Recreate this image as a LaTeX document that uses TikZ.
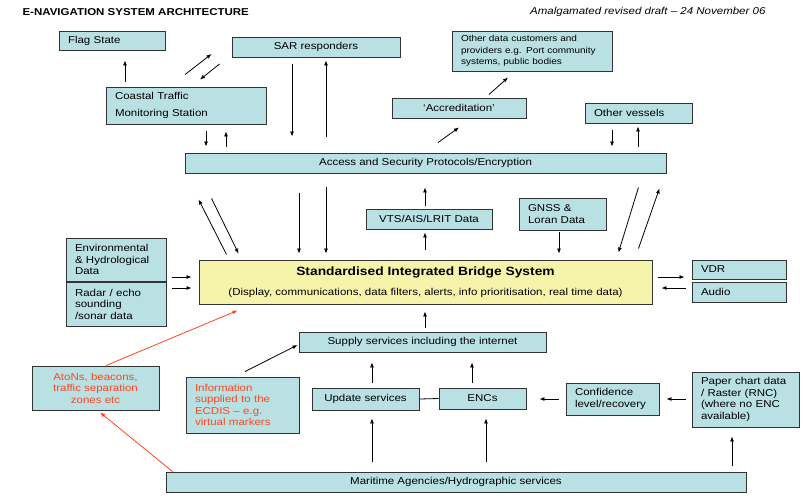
\documentclass[tikz,border=0pt]{standalone}
\usepackage{fontspec}
\setmainfont{Liberation Sans}[FakeStretch=1.15]
\usetikzlibrary{arrows.meta}
\definecolor{boxcyan}{RGB}{185,224,227}
\definecolor{sibsyellow}{RGB}{246,243,170}
\definecolor{redtxt}{RGB}{255,70,30}
\tikzset{
  infobox/.style={draw=black!80, line width=0.9pt, fill=boxcyan, inner sep=0pt, align=center, font=\fontsize{10}{11.5}\selectfont},
  leftbox/.style={infobox, align=left, inner xsep=9pt},
  arr/.style={-{Latex[length=5pt,width=4pt]}, line width=0.8pt},
  redarr/.style={arr, draw=redtxt},
}

\begin{document}
\begin{tikzpicture}[x=1pt,y=-1pt]
  \useasboundingbox (0,0) rectangle (805,496);
  % header
  \node[anchor=west, font=\fontsize{10}{12}\selectfont\bfseries] (title) at (19,12) {E-NAVIGATION SYSTEM ARCHITECTURE};
  \node[anchor=east, font=\fontsize{10}{12}\selectfont\itshape] (draft) at (769,12) {Amalgamated revised draft -- 24 November 06};
  % top row
  \node[leftbox, text width=88pt, minimum height=19pt] (flag) at (112,40.5) {Flag State};
  \node[infobox, minimum width=168pt, minimum height=20pt] (sar) at (316,47) {SAR responders};
  \node[leftbox, text width=142pt, minimum height=40pt, font=\fontsize{8.7}{11.5}\selectfont] (others) at (532,51) {Other data customers and\\providers e.g. Port community\\systems, public bodies};
  \node[leftbox, text width=142pt, minimum height=37pt] (coastal) at (186,105.5) {Coastal Traffic\\[6pt]Monitoring Station};
  \node[infobox, minimum width=134pt, minimum height=20pt] (accred) at (459,108) {`Accreditation'};
  \node[leftbox, text width=89pt, minimum height=20pt] (vessels) at (638.5,113) {Other vessels};
  \node[infobox, minimum width=481pt, minimum height=20pt] (access) at (425.5,163) {Access and Security Protocols/Encryption};
  % middle row
  \node[leftbox, text width=82pt, minimum height=43pt] (env) at (116,259.5) {Environmental\\\& Hydrological\\Data};
  \node[leftbox, text width=82pt, minimum height=44pt] (radar) at (116,304) {Radar / echo\\sounding\\/sonar data};
  \node[infobox, fill=sibsyellow, minimum width=453pt, minimum height=44pt] (sibs) at (425.5,282) {{\fontsize{12}{14}\selectfont\bfseries Standardised Integrated Bridge System}\\[8pt](Display, communications, data filters, alerts, info prioritisation, real time data)};
  \node[infobox, minimum width=126pt, minimum height=20pt] (vts) at (429,219) {VTS/AIS/LRIT Data};
  \node[leftbox, text width=69pt, minimum height=32pt] (gnss) at (562.5,214) {GNSS \&\\Loran Data};
  \node[leftbox, text width=76pt, minimum height=19pt] (vdr) at (739,269.5) {VDR};
  \node[leftbox, text width=76pt, minimum height=20pt] (audio) at (739,292) {Audio};
  % bottom rows
  \node[infobox, minimum width=247pt, minimum height=20pt] (supply) at (422.5,342) {Supply services including the internet};
  \node[infobox, text=redtxt, minimum width=127pt, minimum height=44pt] (atons) at (95.5,388) {AtoNs, beacons,\\traffic separation\\zones etc};
  \node[leftbox, text=redtxt, text width=95pt, minimum height=56pt] (ecdis) at (242.5,405) {Information\\supplied to the\\ECDIS -- e.g.\\virtual markers};
  \node[infobox, minimum width=107pt, minimum height=22pt] (update) at (365.5,399) {Update services};
  \node[infobox, minimum width=87pt, minimum height=21pt] (encs) at (482.5,398.5) {ENCs};
  \node[leftbox, text width=75pt, minimum height=32pt] (conf) at (612.5,399) {Confidence\\level/recovery};
  \node[leftbox, text width=89pt, minimum height=55pt] (paper) at (745.5,399.5) {Paper chart data\\/ Raster (RNC)\\(where no ENC\\available)};
  \node[infobox, minimum width=580pt, minimum height=20pt] (maritime) at (456,482) {Maritime Agencies/Hydrographic services};
  % top arrows
  \draw[arr, shorten <=5pt, shorten >=10pt] (125,0 |- coastal.north) -- (125,0 |- flag.south);
  \draw[arr] ([xshift=-1pt,yshift=12pt]coastal.north) -- ([xshift=-20pt,yshift=-7pt]sar.west);
  \draw[arr] ([xshift=-12pt,yshift=-17pt]sar.west) -- ([xshift=14pt,yshift=7pt]coastal.north);
  \draw[arr, shorten <=7pt, shorten >=16pt] (292,0 |- sar.south) -- (292,0 |- access.north);
  \draw[arr, shorten <=16pt, shorten >=3pt] (326,0 |- access.north) -- (326,0 |- sar.south);
  \draw[arr, shorten <=7pt, shorten >=6pt] (206,0 |- coastal.south) -- (206,0 |- access.north);
  \draw[arr, shorten <=6pt, shorten >=7pt] (226,0 |- access.north) -- (226,0 |- coastal.south);
  \draw[arr] ([xshift=12.5pt,yshift=10pt]access.north) -- ([yshift=-9pt]accred.south);
  \draw[arr] ([xshift=30pt,yshift=3pt]accred.north) -- ([xshift=-24pt,yshift=-6pt]others.south);
  \draw[arr, shorten <=7pt, shorten >=6pt] (612,0 |- vessels.south) -- (612,0 |- access.north);
  \draw[arr, shorten <=6pt, shorten >=3pt] (638,0 |- access.north) -- (638,0 |- vessels.south);
  % middle arrows
  \draw[arr] ([xshift=28pt,yshift=5pt]sibs.north west) -- ([xshift=14pt,yshift=-26pt]access.south west);
  \draw[arr] ([xshift=27pt,yshift=-25pt]access.south west) -- ([xshift=40pt,yshift=6pt]sibs.north west);
  \draw[arr, shorten <=20pt, shorten >=6pt] (299,0 |- access.south) -- (299,0 |- sibs.north);
  \draw[arr, shorten <=14pt, shorten >=6pt] (326,0 |- access.south) -- (326,0 |- sibs.north);
  \draw[arr, shorten <=3pt, shorten >=14pt] (425,0 |- vts.north) -- (425,0 |- access.south);
  \draw[arr, shorten <=10pt, shorten >=3pt] (425,0 |- sibs.north) -- (425,0 |- vts.south);
  \draw[arr, shorten <=2pt, shorten >=6pt] (559,0 |- gnss.south) -- (559,0 |- sibs.north);
  \draw[arr] ([xshift=-28pt,yshift=-14pt]access.south east) -- ([xshift=-34pt,yshift=7pt]sibs.north east);
  \draw[arr] ([xshift=-14pt,yshift=11pt]sibs.north east) -- ([xshift=-7pt,yshift=-15pt]access.south east);
  \draw[arr, shorten <=6pt, shorten >=7pt] (env.east |- 0,277) -- (sibs.west |- 0,277);
  \draw[arr, shorten <=6pt, shorten >=7pt] (radar.east |- 0,288) -- (sibs.west |- 0,288);
  \draw[arr, shorten <=6pt, shorten >=7pt] (sibs.east |- 0,277) -- (vdr.west |- 0,277);
  \draw[arr, shorten <=6pt, shorten >=9pt] (audio.west |- 0,288) -- (sibs.east |- 0,288);
  % bottom arrows
  \draw[arr, shorten <=4pt, shorten >=7pt] (425,0 |- supply.north) -- (425,0 |- sibs.south);
  \draw[redarr] ([xshift=10.5pt]atons.north) -- ([xshift=39pt,yshift=-6pt]sibs.south west);
  \draw[arr] ([xshift=2.5pt,yshift=5pt]ecdis.north) -- ([xshift=-1pt,yshift=-3pt]supply.west);
  \draw[arr, shorten <=5pt, shorten >=10pt] (372,0 |- update.north) -- (372,0 |- supply.south);
  \draw[arr, shorten <=5pt, shorten >=10pt] (472,0 |- encs.north) -- (472,0 |- supply.south);
  \draw[line width=0.8pt] (update.east) -- (encs.west);
  \draw[arr, shorten <=7pt, shorten >=13pt] (conf.west) -- (encs.east |- conf.west);
  \draw[arr, shorten <=6pt, shorten >=7pt] (paper.west |- conf.east) -- (conf.east);
  \draw[arr, shorten <=10pt, shorten >=8pt] (372,0 |- maritime.north) -- (372,0 |- update.south);
  \draw[arr, shorten <=10pt, shorten >=9pt] (486,0 |- maritime.north) -- (486,0 |- encs.south);
  \draw[arr, shorten <=6pt, shorten >=9pt] (732,0 |- maritime.north) -- (732,0 |- paper.south);
  \draw[redarr] ([xshift=7pt]maritime.north west) -- ([xshift=4.5pt,yshift=-2pt]atons.south);
\end{tikzpicture}
\end{document}
